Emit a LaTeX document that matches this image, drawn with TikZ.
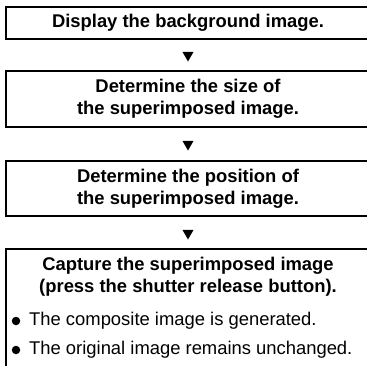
\documentclass[tikz,border=0pt]{standalone}
\usepackage{fontspec}
\setmainfont{Liberation Sans}
\usetikzlibrary{shapes.geometric}

\tikzset{
  frame/.style={line width=2.2pt},
  steptext/.style={font=\bfseries\fontsize{18.4}{22}\selectfont,align=center,inner sep=0pt},
  notetext/.style={font=\fontsize{18.4}{22}\selectfont,anchor=west,inner sep=0pt},
  downtri/.style={regular polygon,regular polygon sides=3,shape border rotate=180,fill=black,minimum size=13pt,inner sep=0pt},
  dot/.style={circle,fill=black,minimum size=8.5pt,inner sep=0pt}
}

\begin{document}
\begin{tikzpicture}[x=1pt,y=-1pt]
  \useasboundingbox (0,0) rectangle (367,365);
  % Step 1
  \draw[frame](370,7) -| (6,39) -- (370,39);
  \node[steptext] (display) at(188,23){Display the background image.};
  \node[downtri] (tri1) at(188,55){};
  % Step 2
  \draw[frame](370,71) -| (6,127) -- (370,127);
  \node[steptext] (size) at(188,99){Determine the size of\\the superimposed image.};
  \node[downtri] (tri2) at(188,144){};
  % Step 3
  \draw[frame](370,161) -| (6,216) -- (370,216);
  \node[steptext] (position) at(188,188.5){Determine the position of\\the superimposed image.};
  \node[downtri] (tri3) at(188,233){};
  % Step 4 with notes
  \draw[frame](370,249) -| (6,370);
  \node[steptext] (capture) at(188,277){Capture the superimposed image\\(press the shutter release button).};
  \node[dot] (dot1) at(16,321){};
  \node[notetext] (composite) at(29,321){The composite image is generated.};
  \node[dot] (dot2) at(16,350){};
  \node[notetext] (original) at(29,350){The original image remains unchanged.};
\end{tikzpicture}
\end{document}
